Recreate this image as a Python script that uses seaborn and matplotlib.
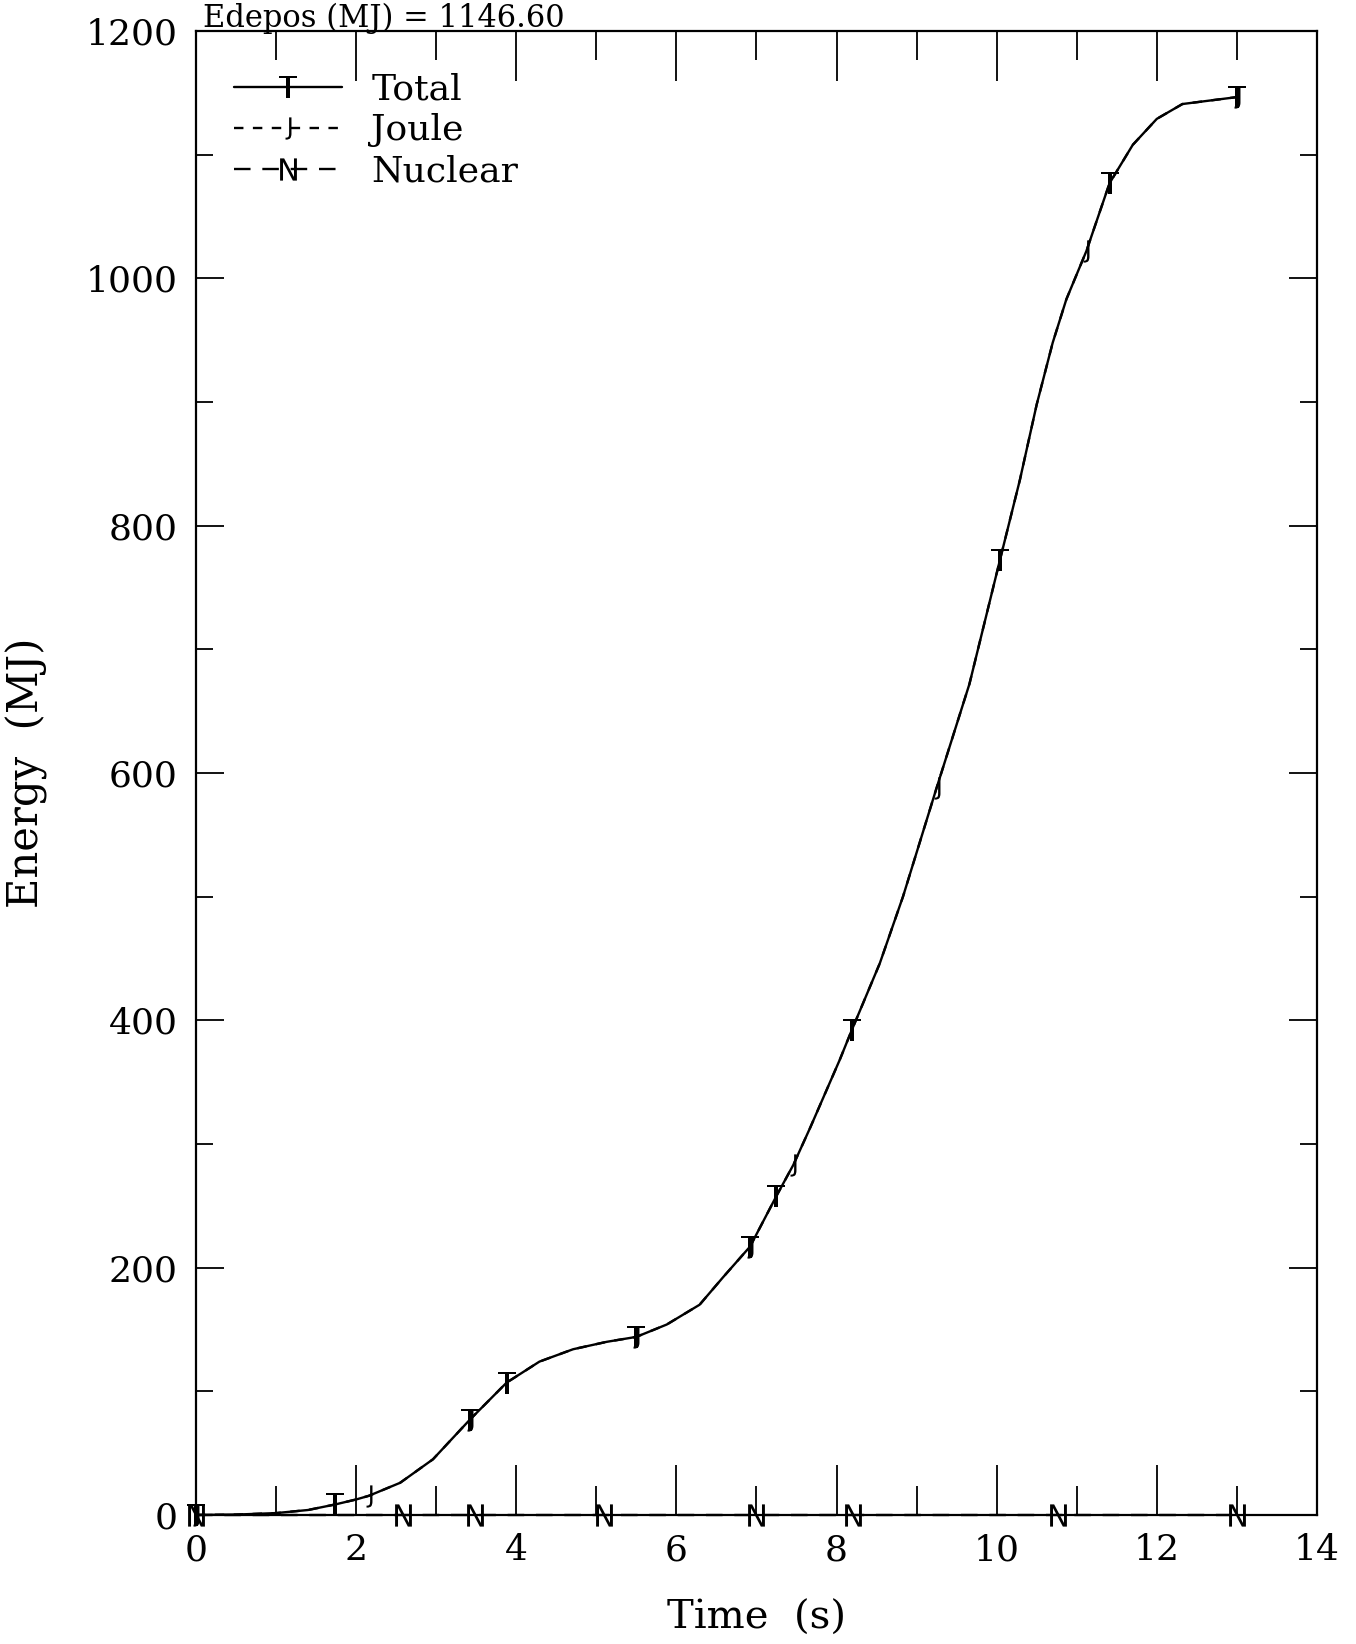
import matplotlib
matplotlib.use("Agg")
import matplotlib.pyplot as plt
from matplotlib.ticker import MultipleLocator
import pandas as pd
import seaborn as sns

# Energy deposited during the pulse (MJ) versus time (s)
time_s = [0.0, 0.5, 1.0, 1.4, 1.74, 2.0, 2.16, 2.55, 2.96, 3.42, 3.88, 4.29,
          4.71, 5.13, 5.5, 5.88, 6.29, 6.58, 6.92, 7.25, 7.46, 7.67, 8.04,
          8.19, 8.54, 8.83, 9.25, 9.66, 10.04, 10.29, 10.5, 10.7, 10.87,
          11.12, 11.41, 11.70, 12.0, 12.32, 13.0]
total_mj = [0.0, 0.3, 1.5, 4.0, 8.5, 12.5, 15.5, 26.0, 45.0, 77.0, 107.0, 124.0,
            134.0, 140.0, 144.0, 154.0, 170.0, 192.0, 217.0, 258.0, 283.0,
            313.0, 368.0, 392.0, 446.0, 500.0, 588.0, 672.0, 772.0, 837.0,
            898.0, 948.0, 983.0, 1022.0, 1077.0, 1108.0, 1129.0, 1141.0, 1146.6]
joule_mj = [0.0, 0.3, 1.5, 4.0, 8.5, 12.5, 15.5, 26.0, 45.0, 77.0, 107.0, 124.0,
            134.0, 140.0, 144.0, 154.0, 170.0, 192.0, 217.0, 258.0, 283.0,
            313.0, 368.0, 392.0, 446.0, 500.0, 588.0, 672.0, 772.0, 837.0,
            898.0, 948.0, 983.0, 1022.0, 1077.0, 1108.0, 1129.0, 1141.0, 1146.6]
nuclear_time_s = [0.0, 2.59, 3.48, 5.09, 6.99, 8.2, 10.76, 13.0]
nuclear_mj = [0.0, 0.0, 0.0, 0.0, 0.0, 0.0, 0.0, 0.0]

# Times at which the series symbols are drawn
total_symbol_t = [0.0, 1.74, 3.42, 3.88, 5.5, 6.92, 7.25, 8.19, 10.04, 11.41, 13.0]
joule_symbol_t = [0.0, 2.16, 3.42, 5.5, 6.92, 7.46, 9.25, 11.12, 13.0]

deposited_total = 1146.60

sns.set_style("white")
plt.rcParams["font.family"] = ["DejaVu Serif"]
plt.rcParams["mathtext.fontset"] = "dejavusans"
plt.rcParams["text.color"] = "black"
plt.rcParams["axes.labelcolor"] = "black"
plt.rcParams["xtick.color"] = "black"
plt.rcParams["ytick.color"] = "black"

fig = plt.figure(figsize=(13.56, 16.44), dpi=100)
ax = fig.add_axes([0.1445, 0.0785, 0.8267, 0.9026])

df = pd.DataFrame({"t": time_s, "total": total_mj, "joule": joule_mj})
nuc = pd.DataFrame({"t": nuclear_time_s, "nuclear": nuclear_mj})

mk = dict(markersize=16, markerfacecolor="black", markeredgecolor="black",
          markeredgewidth=0.0, clip_on=False)

sns.lineplot(data=df, x="t", y="total", ax=ax, color="black", lw=1.7,
             marker=r"$\mathrm{T}$",
             markevery=[time_s.index(t) for t in total_symbol_t],
             label="Total", **mk)
sns.lineplot(data=df, x="t", y="joule", ax=ax, color="black", lw=1.7,
             dashes=(4, 4), marker=r"$\mathrm{J}$",
             markevery=[time_s.index(t) for t in joule_symbol_t],
             label="Joule", **mk)
sns.lineplot(data=nuc, x="t", y="nuclear", ax=ax, color="black", lw=1.7,
             dashes=(7, 5), marker=r"$\mathrm{N}$", label="Nuclear", **mk)

ax.set_xlim(0, 14)
ax.set_ylim(0, 1200)
ax.xaxis.set_major_locator(MultipleLocator(2))
ax.xaxis.set_minor_locator(MultipleLocator(1))
ax.yaxis.set_major_locator(MultipleLocator(200))
ax.yaxis.set_minor_locator(MultipleLocator(100))

ax.tick_params(axis="x", which="major", direction="in", length=36, width=1.3,
               top=True, bottom=True, pad=13, labelsize=26)
ax.tick_params(axis="x", which="minor", direction="in", length=21, width=1.3,
               top=True, bottom=True)
ax.tick_params(axis="y", which="major", direction="in", length=20, width=1.3,
               left=True, right=True, pad=13, labelsize=26)
ax.tick_params(axis="y", which="minor", direction="in", length=12, width=1.3,
               left=True, right=True)

for side in ax.spines.values():
    side.set_linewidth(1.6)
    side.set_color("black")

ax.set_xlabel("Time  (s)", fontsize=29)
ax.set_ylabel("Energy  (MJ)", fontsize=30)
ax.xaxis.set_label_coords(0.5, -0.057)
ax.yaxis.set_label_coords(-0.132, 0.5)

leg = ax.legend(loc="upper left", frameon=False, fontsize=26,
                handlelength=3.0, handletextpad=0.8, labelspacing=0.2,
                borderaxespad=0.0, bbox_to_anchor=(0.021, 0.982), numpoints=1)

fig.text(0.150, 1 - 27 / 1644, f"Edepos (MJ) = {deposited_total:.2f}",
         fontsize=22, ha="left", va="baseline")

fig.savefig("out.png", dpi=100)
